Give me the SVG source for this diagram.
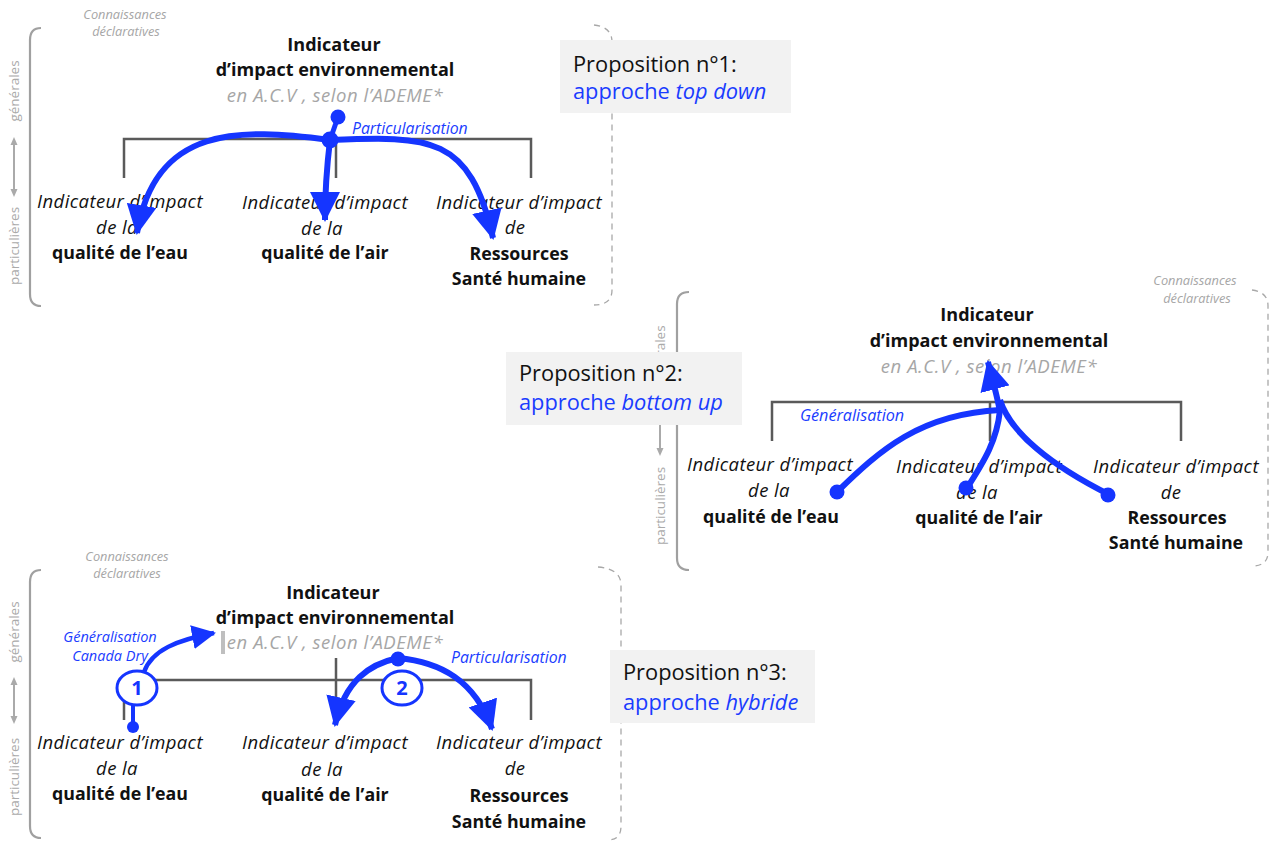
<svg xmlns="http://www.w3.org/2000/svg" width="1270" height="843" viewBox="0 0 1270 843">
<defs>
<style>
text{font-family:"Open Sans","Liberation Sans",sans-serif;}
.t{font-size:18px;font-weight:700;fill:#111;text-anchor:middle}
.sub{font-size:18.5px;font-style:italic;fill:#a6a6a6;text-anchor:middle;letter-spacing:0.55px}
.ci{font-size:18.5px;font-style:italic;fill:#111;text-anchor:middle;letter-spacing:0.4px}
.cb{font-size:17.8px;font-weight:700;fill:#111;text-anchor:middle}
.kn{font-size:12.8px;font-style:italic;fill:#a6a6a6;text-anchor:middle}
.vl{font-size:13.5px;fill:#aaaaaa;text-anchor:middle}
.bl{font-size:15.8px;font-style:italic;fill:#1a3cff}
.bs{font-size:14.5px;font-style:italic;fill:#1a3cff;text-anchor:middle}
.pt{font-size:21.8px;fill:#111}
.pb{font-size:21.8px;fill:#1a3cff}
.br{fill:none;stroke:#a0a0a0;stroke-width:2.2}
.dbr{fill:none;stroke:#a8a8a8;stroke-width:1.3;stroke-dasharray:6 5}
.tree{fill:none;stroke:#5a5a5a;stroke-width:2.5}
.va{stroke:#aaaaaa;stroke-width:2;marker-start:url(#ga);marker-end:url(#ga)}
.box{fill:#f2f2f2}
.ar{fill:none;stroke:#1535ff;stroke-width:6;stroke-linecap:butt}
.dot{fill:#1535ff}
.circ{fill:#fff;stroke:#1535ff;stroke-width:3}
.num{font-size:20px;font-weight:700;fill:#1535ff;text-anchor:middle}
</style>
<marker id="ah" viewBox="0 0 30 30" refX="28" refY="15" markerWidth="30" markerHeight="30" markerUnits="userSpaceOnUse" orient="auto"><path d="M0,0 L30,15 L0,30 z" fill="#1535ff"/></marker>
<marker id="ahs" viewBox="0 0 24 24" refX="22" refY="12" markerWidth="24" markerHeight="24" markerUnits="userSpaceOnUse" orient="auto"><path d="M0,0 L24,12 L0,24 z" fill="#1535ff"/></marker>
<marker id="ga" viewBox="0 0 8 8" refX="4" refY="4" markerWidth="8" markerHeight="8" markerUnits="userSpaceOnUse" orient="auto-start-reverse"><path d="M0,0.5 L8,4 L0,7.5 z" fill="#aaaaaa"/></marker>
</defs>
<rect width="1270" height="843" fill="#fff"/>

<!-- ===== Panel 1 ===== -->
<g id="p1-frame">
<path class="br" d="M41,28 Q30,28 30,40 L30,294 Q30,306 41,306"/>
<path class="dbr" d="M594,25 Q612,27 612,42 L612,290 Q612,305 594,305"/>
<text class="kn" x="125" y="19">Connaissances</text>
<text class="kn" x="126" y="36">déclaratives</text>
<text class="vl" transform="translate(19,91) rotate(-90)">générales</text>
<text class="vl" transform="translate(19,246) rotate(-90)">particulières</text>
<line class="va" x1="14" y1="141" x2="14" y2="193"/>
</g>
<g id="p1-tree">
<path class="tree" d="M124,178 L124,139 L531,139 L531,178 M336,139 L336,178"/>
</g>
<g id="p1-root">
<text class="t" x="334" y="51">Indicateur</text>
<text class="t" x="335" y="76">d’impact environnemental</text>
<text class="sub" x="335" y="102">en A.C.V , selon l’ADEME*</text>
</g>
<g id="p1-eau">
<text class="ci" x="120" y="208">Indicateur d’impact</text>
<text class="ci" x="117" y="234">de la</text>
<text class="cb" x="120" y="259">qualité de l’eau</text>
</g>
<g id="p1-air">
<text class="ci" x="325" y="209">Indicateur d’impact</text>
<text class="ci" x="322" y="235">de la</text>
<text class="cb" x="325" y="259">qualité de l’air</text>
</g>
<g id="p1-res">
<text class="ci" x="519" y="209">Indicateur d’impact</text>
<text class="ci" x="515" y="234">de</text>
<text class="cb" x="519" y="260">Ressources</text>
<text class="cb" x="519" y="285">Santé humaine</text>
</g>
<g id="p1-connectors">
<line x1="338" y1="117" x2="330" y2="140" stroke="#1535ff" stroke-width="5"/>
<path class="ar" marker-end="url(#ah)" d="M330,140 C240,128 155,125 137,233"/>
<path class="ar" marker-end="url(#ah)" d="M330,140 C327,165 325,190 325,220"/>
<path class="ar" marker-end="url(#ah)" d="M330,140 C430,136 470,135 493,238"/>
<circle class="dot" cx="338" cy="117" r="7.5"/>
<circle class="dot" cx="330" cy="140" r="8.5"/>
<text class="bl" x="352" y="134">Particularisation</text>
</g>
<g id="p1-prop">
<rect class="box" x="560" y="40" width="231" height="73"/>
<text class="pt" x="573" y="72">Proposition n°1:</text>
<text class="pb" x="573" y="99">approche <tspan font-style="italic">top down</tspan></text>
</g>

<!-- ===== Panel 2 ===== -->
<g id="p2-frame">
<path class="br" d="M689,292 Q677,292 677,304 L677,558 Q677,570 689,570"/>
<path class="dbr" d="M1252,290 Q1268,292 1268,306 L1268,552 Q1268,566 1252,566"/>
<text class="kn" x="1195" y="285">Connaissances</text>
<text class="kn" x="1197" y="303">déclaratives</text>
<text class="vl" transform="translate(665,356) rotate(-90)">générales</text>
<text class="vl" transform="translate(665,506) rotate(-90)">particulières</text>
<line class="va" x1="660" y1="404" x2="660" y2="452"/>
</g>
<g id="p2-tree">
<path class="tree" d="M772,441 L772,402 L1181,402 L1181,441 M990,402 L990,441"/>
</g>
<g id="p2-root">
<text class="t" x="987" y="321">Indicateur</text>
<text class="t" x="989" y="347">d’impact environnemental</text>
<text class="sub" x="989" y="373">en A.C.V , selon l’ADEME*</text>
</g>
<g id="p2-eau">
<text class="ci" x="770" y="471">Indicateur d’impact</text>
<text class="ci" x="769" y="497">de la</text>
<text class="cb" x="771" y="523">qualité de l’eau</text>
</g>
<g id="p2-air">
<text class="ci" x="979" y="473">Indicateur d’impact</text>
<text class="ci" x="977" y="499">de la</text>
<text class="cb" x="979" y="524">qualité de l’air</text>
</g>
<g id="p2-res">
<text class="ci" x="1176" y="473">Indicateur d’impact</text>
<text class="ci" x="1171" y="499">de</text>
<text class="cb" x="1177" y="524">Ressources</text>
<text class="cb" x="1176" y="549">Santé humaine</text>
</g>
<g id="p2-connectors">
<path class="ar" d="M837,492 C880,450 920,414 1000,410"/>
<path class="ar" d="M967,488 C985,460 997,440 1000,410"/>
<path class="ar" d="M1110,495 C1050,465 1010,432 1000,400"/>
<path class="ar" marker-end="url(#ah)" d="M1000,412 C998,400 994,385 988,362"/>
<circle class="dot" cx="837" cy="492" r="7.5"/>
<circle class="dot" cx="966" cy="488" r="7.5"/>
<circle class="dot" cx="1108" cy="495" r="7.5"/>
<text class="bl" x="800" y="421" style="font-size:16.2px">Généralisation</text>
</g>
<g id="p2-prop">
<rect class="box" x="506" y="352" width="236" height="73"/>
<text class="pt" x="519" y="381">Proposition n°2:</text>
<text class="pb" x="519" y="410">approche <tspan font-style="italic">bottom up</tspan></text>
</g>

<!-- ===== Panel 3 ===== -->
<g id="p3-frame">
<path class="br" d="M41,570 Q30,570 30,582 L30,826 Q30,838 41,838"/>
<path class="dbr" d="M598,567 Q621,569 621,585 L621,826 Q621,840 608,840"/>
<text class="kn" x="127" y="561">Connaissances</text>
<text class="kn" x="127" y="578">déclaratives</text>
<text class="vl" transform="translate(19,632) rotate(-90)">générales</text>
<text class="vl" transform="translate(19,777) rotate(-90)">particulières</text>
<line class="va" x1="14" y1="681" x2="14" y2="720"/>
</g>
<g id="p3-tree">
<path class="tree" d="M124,720 L124,680 L531,680 L531,720 M336,658 L336,722"/>
</g>
<g id="p3-root">
<text class="t" x="333" y="599">Indicateur</text>
<text class="t" x="335" y="624">d’impact environnemental</text>
<rect x="221" y="631" width="4" height="23" fill="#bfbfbf"/>
<text class="sub" x="335" y="649">en A.C.V , selon l’ADEME*</text>
</g>
<g id="p3-eau">
<text class="ci" x="120" y="749">Indicateur d’impact</text>
<text class="ci" x="117" y="775">de la</text>
<text class="cb" x="120" y="800">qualité de l’eau</text>
</g>
<g id="p3-air">
<text class="ci" x="325" y="749">Indicateur d’impact</text>
<text class="ci" x="322" y="776">de la</text>
<text class="cb" x="325" y="801">qualité de l’air</text>
</g>
<g id="p3-res">
<text class="ci" x="519" y="749">Indicateur d’impact</text>
<text class="ci" x="515" y="775">de</text>
<text class="cb" x="519" y="802">Ressources</text>
<text class="cb" x="519" y="828">Santé humaine</text>
</g>
<g id="p3-connectors">
<line x1="133" y1="702" x2="133" y2="727" stroke="#1535ff" stroke-width="4"/>
<circle class="dot" cx="133" cy="727" r="6"/>
<path class="ar" style="stroke-width:4.5" marker-end="url(#ahs)" d="M144,672 C152,650 177,640 214,633"/>
<path class="ar" marker-end="url(#ah)" d="M398,658 C370,664 345,680 335,725"/>
<path class="ar" marker-end="url(#ah)" d="M398,658 C440,662 475,680 492,729"/>
<circle class="dot" cx="398" cy="659" r="7.5"/>
<text class="bs" x="110" y="642">Généralisation</text>
<text class="bs" x="110" y="661">Canada Dry</text>
<text class="bl" x="451" y="663">Particularisation</text>
</g>
<g id="p3-step1">
<ellipse class="circ" cx="137" cy="688" rx="20" ry="17"/>
<text class="num" x="137" y="695">1</text>
</g>
<g id="p3-step2">
<ellipse class="circ" cx="402" cy="688" rx="20" ry="17"/>
<text class="num" x="402" y="695">2</text>
</g>
<g id="p3-prop">
<rect class="box" x="610" y="650" width="205" height="73"/>
<text class="pt" x="623" y="680">Proposition n°3:</text>
<text class="pb" x="623" y="710">approche <tspan font-style="italic">hybride</tspan></text>
</g>
</svg>
